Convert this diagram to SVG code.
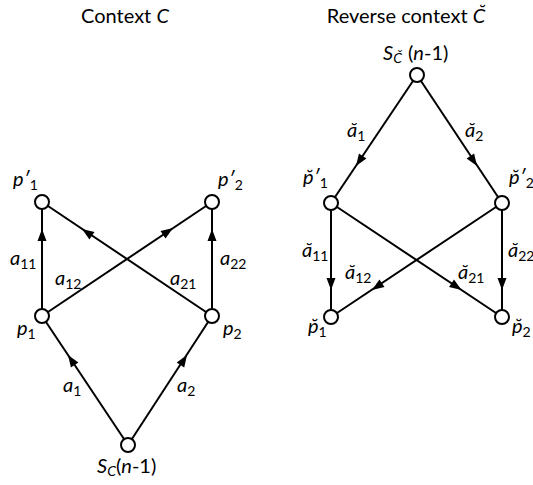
<svg xmlns="http://www.w3.org/2000/svg" xmlns:xlink="http://www.w3.org/1999/xlink" width="533" height="485" viewBox="0 0 533 485">
<style>
text{font-family:Lato,"Liberation Sans","DejaVu Sans",sans-serif;font-size:20px;fill:#000}
.i{font-style:italic}
.s{font-size:14px}
.edge{stroke:#000;stroke-width:2;fill:none}
.node{fill:#fff;stroke:#000;stroke-width:2}
</style>
<defs>
<path id="ah" d="M0,0 L-12,-4.5 L-12,4.5 Z" fill="#000"/>
</defs>
<rect width="533" height="485" fill="#fff"/>
<text x="125" y="23" text-anchor="middle">Context <tspan class="i">C</tspan></text>
<text x="406" y="23" text-anchor="middle">Reverse context <tspan class="i">C̆</tspan></text>
<g id="connectors">
<line class="edge" x1="42" y1="316" x2="42" y2="202"/>
<line class="edge" x1="212" y1="316" x2="42" y2="202"/>
<line class="edge" x1="42" y1="316" x2="212" y2="202"/>
<line class="edge" x1="212" y1="316" x2="212" y2="202"/>
<line class="edge" x1="128" y1="445" x2="42" y2="316"/>
<line class="edge" x1="128" y1="445" x2="212" y2="316"/>
<use href="#ah" transform="translate(42,229) rotate(-90)"/>
<use href="#ah" transform="translate(82,229) rotate(-146.16)"/>
<use href="#ah" transform="translate(173,228) rotate(-33.84)"/>
<use href="#ah" transform="translate(212,229) rotate(-90)"/>
<use href="#ah" transform="translate(68,355) rotate(-123.69)"/>
<use href="#ah" transform="translate(187,355) rotate(-56.93)"/>
<line class="edge" x1="417" y1="75" x2="331" y2="203"/>
<line class="edge" x1="417" y1="75" x2="502" y2="203"/>
<line class="edge" x1="331" y1="203" x2="331" y2="317"/>
<line class="edge" x1="502" y1="203" x2="502" y2="317"/>
<line class="edge" x1="502" y1="203" x2="331" y2="317"/>
<line class="edge" x1="331" y1="203" x2="502" y2="317"/>
<use href="#ah" transform="translate(356,166) rotate(123.9)"/>
<use href="#ah" transform="translate(477,166) rotate(56.4)"/>
<use href="#ah" transform="translate(331,290) rotate(90)"/>
<use href="#ah" transform="translate(502,290) rotate(90)"/>
<use href="#ah" transform="translate(372,290) rotate(146.3)"/>
<use href="#ah" transform="translate(461.5,290) rotate(33.7)"/>
</g>
<g id="edge-labels">
<text x="10" y="265"><tspan class="i">a</tspan><tspan class="s" dy="4">11</tspan></text>
<text x="55" y="285"><tspan class="i">a</tspan><tspan class="s" dy="4">12</tspan></text>
<text x="170" y="285"><tspan class="i">a</tspan><tspan class="s" dy="4">21</tspan></text>
<text x="220" y="265"><tspan class="i">a</tspan><tspan class="s" dy="4">22</tspan></text>
<text x="63" y="392"><tspan class="i">a</tspan><tspan class="s" dy="4">1</tspan></text>
<text x="177" y="392"><tspan class="i">a</tspan><tspan class="s" dy="4">2</tspan></text>
<text x="347" y="137"><tspan class="i">ă</tspan><tspan class="s" dy="4">1</tspan></text>
<text x="465" y="137"><tspan class="i">ă</tspan><tspan class="s" dy="4">2</tspan></text>
<text x="302" y="257"><tspan class="i">ă</tspan><tspan class="s" dy="4">11</tspan></text>
<text x="345" y="279"><tspan class="i">ă</tspan><tspan class="s" dy="4">12</tspan></text>
<text x="458" y="279"><tspan class="i">ă</tspan><tspan class="s" dy="4">21</tspan></text>
<text x="508" y="257"><tspan class="i">ă</tspan><tspan class="s" dy="4">22</tspan></text>
</g>
<g id="node-p1prime"><circle class="node" cx="42" cy="202" r="7"/><text x="13" y="186"><tspan class="i">p′</tspan><tspan class="s" dy="4">1</tspan></text></g>
<g id="node-p2prime"><circle class="node" cx="212" cy="202" r="7"/><text x="218" y="186"><tspan class="i">p′</tspan><tspan class="s" dy="4">2</tspan></text></g>
<g id="node-p1"><circle class="node" cx="42" cy="316" r="7"/><text x="17" y="335"><tspan class="i">p</tspan><tspan class="s" dy="4">1</tspan></text></g>
<g id="node-p2"><circle class="node" cx="212" cy="316" r="7"/><text x="223" y="335"><tspan class="i">p</tspan><tspan class="s" dy="4">2</tspan></text></g>
<g id="node-SC"><circle class="node" cx="128" cy="445" r="7"/><text x="97" y="473"><tspan class="i">S</tspan><tspan class="s i" dy="3">C</tspan><tspan dy="-3">(</tspan><tspan class="i">n</tspan>-1)</text></g>
<g id="node-SCrev"><circle class="node" cx="417" cy="75" r="7"/><text x="383" y="60"><tspan class="i">S</tspan><tspan class="s i" dy="3">C̆</tspan><tspan x="408" dy="-3">(</tspan><tspan class="i">n</tspan>-1)</text></g>
<g id="node-rp1prime"><circle class="node" cx="331" cy="203" r="7"/><text x="303" y="184"><tspan class="i">p̆′</tspan><tspan class="s" dy="4">1</tspan></text></g>
<g id="node-rp2prime"><circle class="node" cx="502" cy="203" r="7"/><text x="509" y="184"><tspan class="i">p̆′</tspan><tspan class="s" dy="4">2</tspan></text></g>
<g id="node-rp1"><circle class="node" cx="331" cy="317" r="7"/><text x="308" y="333"><tspan class="i">p̆</tspan><tspan class="s" dy="4">1</tspan></text></g>
<g id="node-rp2"><circle class="node" cx="502" cy="317" r="7"/><text x="512" y="333"><tspan class="i">p̆</tspan><tspan class="s" dy="4">2</tspan></text></g>
</svg>
